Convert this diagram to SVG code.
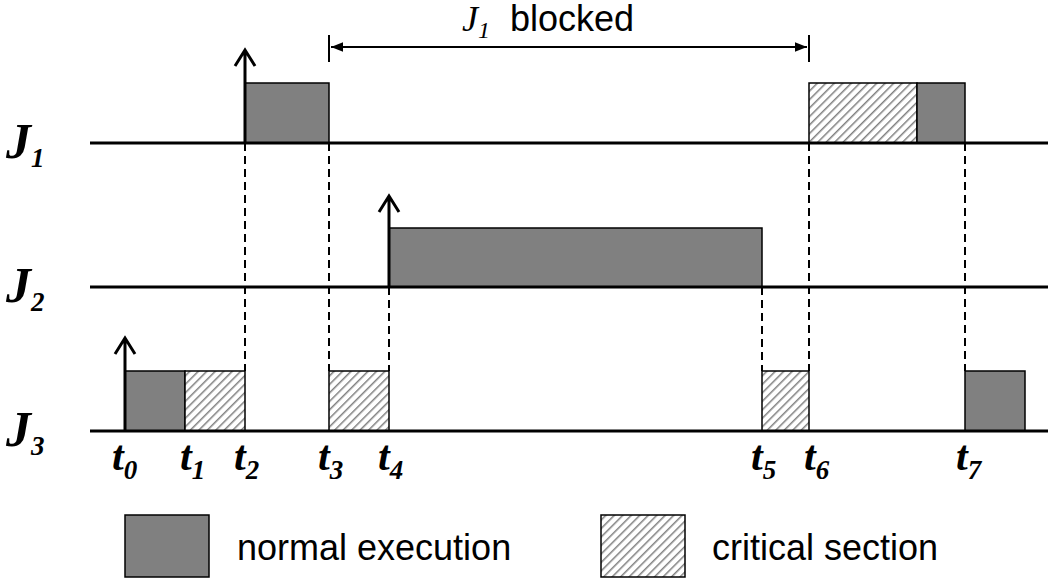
<svg xmlns="http://www.w3.org/2000/svg" width="1062" height="583" viewBox="0 0 1062 583">
<style>
.g{fill:#808080;stroke:#000;stroke-width:1.5}
.h{fill:url(#hatch);stroke:#000;stroke-width:1.5}
.base{stroke:#000;stroke-width:3}
.d{stroke:#000;stroke-width:2;stroke-dasharray:8,5}
.ar{stroke:#000;stroke-width:3;fill:none}
.J{font-family:"Liberation Serif",serif;font-weight:bold;font-style:italic;font-size:50px}
.t{font-family:"Liberation Serif",serif;font-weight:bold;font-style:italic;font-size:42px}
.s{font-size:27px}
.lg{font-family:"Liberation Sans",sans-serif;font-size:36px}
</style>
<defs>
<pattern id="hatch" width="6" height="6" patternUnits="userSpaceOnUse" patternTransform="rotate(45)">
<rect width="6" height="6" fill="#fff"/>
<line x1="0" y1="0" x2="0" y2="6" stroke="#808080" stroke-width="3"/>
</pattern>
<marker id="ah" viewBox="0 0 10 10" refX="10" refY="5" markerWidth="6" markerHeight="6" orient="auto-start-reverse"><path d="M0,1 L10,5 L0,9 z" fill="#000"/></marker>
</defs>
<g id="connectors">
<line class="d" x1="245" y1="143" x2="245" y2="371"/>
<line class="d" x1="329" y1="143" x2="329" y2="371"/>
<line class="d" x1="389" y1="287" x2="389" y2="371"/>
<line class="d" x1="762" y1="287" x2="762" y2="371"/>
<line class="d" x1="809" y1="143" x2="809" y2="371"/>
<line class="d" x1="965" y1="143" x2="965" y2="371"/>
<line x1="329" y1="35" x2="329" y2="62" stroke="#000" stroke-width="2"/>
<line x1="809" y1="35" x2="809" y2="62" stroke="#000" stroke-width="2"/>
<line x1="331" y1="47" x2="807" y2="47" stroke="#000" stroke-width="2" marker-start="url(#ah)" marker-end="url(#ah)"/>
</g>
<g id="J1">
<rect class="g" x="245" y="83" width="84" height="60"/>
<rect class="h" x="809" y="83" width="108" height="60"/>
<rect class="g" x="917" y="83" width="48" height="60"/>
<line class="base" x1="90" y1="143" x2="1048" y2="143"/>
<path class="ar" d="M245,143 V50 M235,66 L245,50 L255,66"/>
<text class="J" x="6" y="158">J<tspan class="s" dy="9">1</tspan></text>
</g>
<g id="J2">
<rect class="g" x="389" y="228" width="373" height="59"/>
<line class="base" x1="90" y1="287" x2="1048" y2="287"/>
<path class="ar" d="M389,287 V196 M379,212 L389,196 L399,212"/>
<text class="J" x="6" y="302">J<tspan class="s" dy="9">2</tspan></text>
</g>
<g id="J3">
<rect class="g" x="125" y="371" width="60" height="60"/>
<rect class="h" x="185" y="371" width="60" height="60"/>
<rect class="h" x="329" y="371" width="60" height="60"/>
<rect class="h" x="762" y="371" width="47" height="60"/>
<rect class="g" x="965" y="371" width="60" height="60"/>
<line class="base" x1="90" y1="431" x2="1048" y2="431"/>
<path class="ar" d="M125,431 V338 M115,354 L125,338 L135,354"/>
<text class="J" x="6" y="446">J<tspan class="s" dy="9">3</tspan></text>
</g>
<g id="labels">
<text class="t" x="112" y="470">t<tspan class="s" dy="9">0</tspan></text>
<text class="t" x="180" y="470">t<tspan class="s" dy="9">1</tspan></text>
<text class="t" x="234" y="470">t<tspan class="s" dy="9">2</tspan></text>
<text class="t" x="318" y="470">t<tspan class="s" dy="9">3</tspan></text>
<text class="t" x="378" y="470">t<tspan class="s" dy="9">4</tspan></text>
<text class="t" x="751" y="470">t<tspan class="s" dy="9">5</tspan></text>
<text class="t" x="804" y="470">t<tspan class="s" dy="9">6</tspan></text>
<text class="t" x="956" y="470">t<tspan class="s" dy="9">7</tspan></text>
<text x="462" y="31" font-family="Liberation Serif,serif" font-style="italic" font-size="36">J<tspan font-size="24" dy="7">1</tspan></text>
<text class="lg" x="510" y="31" font-size="35">blocked</text>
</g>
<g id="legend">
<rect class="g" x="125" y="515" width="84" height="62"/>
<text class="lg" x="237" y="560">normal execution</text>
<rect class="h" x="601" y="515" width="84" height="62"/>
<text class="lg" x="712" y="560">critical section</text>
</g>
</svg>
